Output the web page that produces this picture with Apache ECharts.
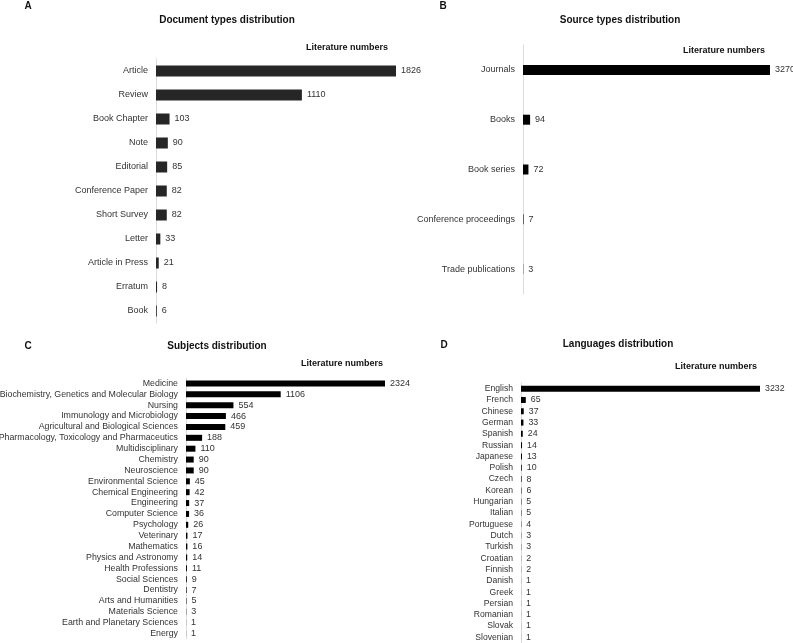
<!DOCTYPE html>
<html>
<head>
<meta charset="utf-8">
<script src="https://cdn.jsdelivr.net/npm/echarts@6/dist/echarts.min.js"></script>
<style>
html,body{margin:0;padding:0;background:#fff;}
#chart{width:793px;height:643px;}
</style>
</head>
<body>
<div id="chart"></div>
<script>
const docTypes = ["Article","Review","Book Chapter","Note","Editorial","Conference Paper","Short Survey","Letter","Article in Press","Erratum","Book"];
const docValues = [1826,1110,103,90,85,82,82,33,21,8,6];

const sourceTypes = ["Journals","Books","Book series","Conference proceedings","Trade publications"];
const sourceValues = [3270,94,72,7,3];

const subjects = ["Medicine","Biochemistry, Genetics and Molecular Biology","Nursing","Immunology and Microbiology","Agricultural and Biological Sciences","Pharmacology, Toxicology and Pharmaceutics","Multidisciplinary","Chemistry","Neuroscience","Environmental Science","Chemical Engineering","Engineering","Computer Science","Psychology","Veterinary","Mathematics","Physics and Astronomy","Health Professions","Social Sciences","Dentistry","Arts and Humanities","Materials Science","Earth and Planetary Sciences","Energy"];
const subjectValues = [2324,1106,554,466,459,188,110,90,90,45,42,37,36,26,17,16,14,11,9,7,5,3,1,1];

const languages = ["English","French","Chinese","German","Spanish","Russian","Japanese","Polish","Czech","Korean","Hungarian","Italian","Portuguese","Dutch","Turkish","Croatian","Finnish","Danish","Greek","Persian","Romanian","Slovak","Slovenian"];
const languageValues = [3232,65,37,33,24,14,13,10,8,6,5,5,4,3,3,2,2,1,1,1,1,1,1];

const panels = [
  {cats: docTypes, vals: docValues, grid:{left:156, top:59, width:240, height:264}, barWidth:11, color:'#262626', fs:9, vfs:9},
  {cats: sourceTypes, vals: sourceValues, grid:{left:523, top:45, width:247, height:249}, barWidth:10, color:'#000000', fs:9, vfs:9},
  {cats: subjects, vals: subjectValues, grid:{left:186, top:378, width:199, height:261}, barWidth:6, color:'#000000', fs:8.8, vfs:9},
  {cats: languages, vals: languageValues, grid:{left:521, top:383, width:239, height:260}, barWidth:6, color:'#000000', fs:8.6, vfs:8.8}
];

const FONT = 'Liberation Sans, Arial, sans-serif';

const texts = [
  {t:'A', x:28, y:6, size:10, bold:true, align:'center'},
  {t:'Document types distribution', x:227, y:20, size:10, bold:true, align:'center'},
  {t:'Literature numbers', x:388, y:48, size:9, bold:true, align:'right'},
  {t:'B', x:443, y:6, size:10, bold:true, align:'center'},
  {t:'Source types distribution', x:620, y:20, size:10, bold:true, align:'center'},
  {t:'Literature numbers', x:765, y:51, size:9, bold:true, align:'right'},
  {t:'C', x:28, y:346, size:10, bold:true, align:'center'},
  {t:'Subjects distribution', x:217, y:346, size:10, bold:true, align:'center'},
  {t:'Literature numbers', x:383, y:364, size:9, bold:true, align:'right'},
  {t:'D', x:444, y:345, size:10, bold:true, align:'center'},
  {t:'Languages distribution', x:618, y:344, size:10, bold:true, align:'center'},
  {t:'Literature numbers', x:757, y:367, size:9, bold:true, align:'right'}
];

const chart = echarts.init(document.getElementById('chart'), null, {renderer:'canvas'});
const option = {
  animation:false,
  backgroundColor:'#ffffff',
  textStyle:{fontFamily:FONT},
  grid: panels.map(p => Object.assign({containLabel:false, outerBoundsMode:'none'}, p.grid)),
  xAxis: panels.map((p,i) => ({
    type:'value', gridIndex:i, min:0, max:'dataMax', show:false
  })),
  yAxis: panels.map((p,i) => ({
    type:'category', gridIndex:i, data:p.cats, inverse:true,
    axisLine:{show:true, lineStyle:{color:'#dcdcdc', width:1}},
    axisTick:{show:false},
    axisLabel:{interval:0, margin:8, fontSize:p.fs, color:'#333', fontFamily:FONT},
    splitLine:{show:false}
  })),
  series: panels.map((p,i) => ({
    type:'bar', xAxisIndex:i, yAxisIndex:i, data:p.vals, barWidth:p.barWidth,
    itemStyle:{color:p.color},
    label:{show:true, position:'right', distance:5, fontSize:p.vfs, color:'#333', fontFamily:FONT},
    silent:true
  })),
  graphic: texts.map(o => ({
    type:'text', x:o.x, y:o.y,
    style:{text:o.t, fill:'#111', font:(o.bold?'bold ':'') + o.size + 'px ' + FONT, textAlign:o.align, textVerticalAlign:'middle'}
  }))
};
chart.setOption(option);
</script>
</body>
</html>
